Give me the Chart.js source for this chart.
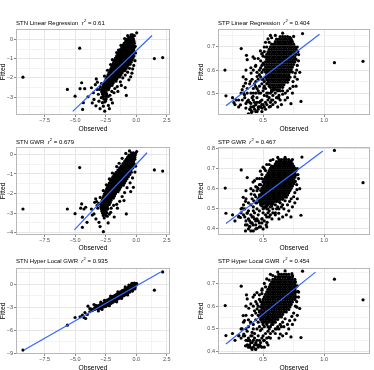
<!DOCTYPE html>
<html>
<head>
<meta charset="utf-8">
<script src="https://cdn.jsdelivr.net/npm/chart.js@4.4.1/dist/chart.umd.min.js"></script>
<style>
html, body { margin: 0; padding: 0; background: #fff; overflow: hidden; }
#wrap { position: relative; width: 374px; height: 370px; }
#wrap canvas { position: absolute; }
</style>
</head>
<body>
<div id="wrap"></div>
<script>
// Observed vs fitted values (x = observed, y = fitted)

// ---- STN, linear regression ----
const stnLinearPts = [
  [-9.28,-1.96],[-4.63,-.45],[-5.64,-2.6],[-5.01,-2.95],[1.49,-.99],[2.17,-.94],[.04,.35],[-.81,-2.91],
  [-4.47,-2.25],[-4.6,-2.56],[-4.22,-2.56],[-3.27,-2.05],[-3.18,-2.22],[-3.67,-2.51],[-4.33,-3.29],[-4.39,-3.64],
  [-3.95,-2.98],[-3.51,-2.77],[-3.05,-3.21],[-2.96,-3.6],[-2.69,-3.47],[-2.58,-3.73],[-2.28,-3.43],[-2.06,-3.12],
  [-1.82,-2.77],[-1.22,-2.39],[-.45,-1.94],[-.29,-1.53],[-1.13,-.38],[-2.86,-3.03],[-2.5,-3.2],[-2.77,-3.29],
  [-2.42,-2.95],[-3.46,-3.12],
  [-.42,.25],[-.3,.25],
  [-.62,.14],[-.45,.14],[-.28,.14],
  [-.74,.03],[-.56,.03],[-.38,.03],[-.22,.03],
  [-.86,-.08],[-.68,-.08],[-.5,-.08],[-.33,-.08],[-.18,-.08],
  [-.98,-.19],[-.8,-.19],[-.62,-.19],[-.45,-.19],[-.28,-.19],[-.15,-.19],
  [-1.08,-.3],[-.9,-.3],[-.72,-.3],[-.55,-.3],[-.37,-.3],[-.2,-.3],
  [-1.18,-.41],[-1,-.41],[-.82,-.41],[-.64,-.41],[-.46,-.41],[-.29,-.41],[-.15,-.41],
  [-1.3,-.52],[-1.12,-.52],[-.94,-.52],[-.76,-.52],[-.58,-.52],[-.4,-.52],[-.22,-.52],
  [-1.4,-.63],[-1.22,-.63],[-1.04,-.63],[-.86,-.63],[-.68,-.63],[-.5,-.63],[-.32,-.63],[-.16,-.63],
  [-1.5,-.74],[-1.32,-.74],[-1.14,-.74],[-.96,-.74],[-.78,-.74],[-.6,-.74],[-.42,-.74],[-.25,-.74],
  [-1.6,-.85],[-1.42,-.85],[-1.24,-.85],[-1.06,-.85],[-.88,-.85],[-.7,-.85],[-.52,-.85],[-.34,-.85],[-.18,-.85],
  [-1.7,-.96],[-1.52,-.96],[-1.34,-.96],[-1.16,-.96],[-.98,-.96],[-.8,-.96],[-.62,-.96],[-.44,-.96],[-.26,-.96],
  [-1.77,-1.07],[-1.59,-1.07],[-1.41,-1.07],[-1.23,-1.07],[-1.05,-1.07],[-.87,-1.07],[-.69,-1.07],[-.51,-1.07],[-.33,-1.07],
  [-1.84,-1.18],[-1.66,-1.18],[-1.48,-1.18],[-1.3,-1.18],[-1.12,-1.18],[-.94,-1.18],[-.76,-1.18],[-.58,-1.18],[-.42,-1.18],
  [-1.91,-1.29],[-1.73,-1.29],[-1.55,-1.29],[-1.37,-1.29],[-1.19,-1.29],[-1.01,-1.29],[-.83,-1.29],[-.65,-1.29],[-.5,-1.29],
  [-1.99,-1.4],[-1.81,-1.4],[-1.63,-1.4],[-1.45,-1.4],[-1.27,-1.4],[-1.09,-1.4],[-.91,-1.4],[-.73,-1.4],
  [-2.07,-1.51],[-1.89,-1.51],[-1.71,-1.51],[-1.53,-1.51],[-1.35,-1.51],[-1.17,-1.51],[-.99,-1.51],[-.82,-1.51],
  [-2.15,-1.62],[-1.97,-1.62],[-1.79,-1.62],[-1.61,-1.62],[-1.43,-1.62],[-1.25,-1.62],[-1.07,-1.62],[-.92,-1.62],
  [-2.23,-1.73],[-2.05,-1.73],[-1.87,-1.73],[-1.69,-1.73],[-1.51,-1.73],[-1.33,-1.73],[-1.15,-1.73],
  [-2.31,-1.84],[-2.13,-1.84],[-1.95,-1.84],[-1.77,-1.84],[-1.59,-1.84],[-1.41,-1.84],[-1.25,-1.84],
  [-2.39,-1.95],[-2.21,-1.95],[-2.03,-1.95],[-1.85,-1.95],[-1.67,-1.95],[-1.49,-1.95],[-1.35,-1.95],
  [-2.47,-2.06],[-2.29,-2.06],[-2.11,-2.06],[-1.93,-2.06],[-1.75,-2.06],[-1.58,-2.06],
  [-2.54,-2.17],[-2.36,-2.17],[-2.18,-2.17],[-2,-2.17],[-1.82,-2.17],[-1.66,-2.17],
  [-2.61,-2.28],[-2.43,-2.28],[-2.25,-2.28],[-2.07,-2.28],[-1.9,-2.28],
  [-2.68,-2.39],[-2.5,-2.39],[-2.32,-2.39],[-2.14,-2.39],[-1.98,-2.39],
  [-2.75,-2.5],[-2.57,-2.5],[-2.39,-2.5],[-2.21,-2.5],
  [-2.8,-2.61],[-2.62,-2.61],[-2.44,-2.61],[-2.27,-2.61],
  [-2.83,-2.72],[-2.65,-2.72],[-2.47,-2.72],
  [-2.78,-2.83],[-2.6,-2.83],[-2.42,-2.83],
  [-2.72,-2.96],[-2.52,-2.96],[-2.3,-2.96],
  [-2.66,-3.1],[-2.46,-3.1],[-2.58,-3.25],
  [-1.95,-1.05],[-2.1,-1.3],[-2.35,-1.6],[-2.6,-1.9],[-2.85,-2.3],[-3,-2.6],[-3.1,-2.85],[-.1,-1.1],
  [-.05,-.7],[-.2,-1.35],[-.55,-1.5],[-.7,-1.7],[-.9,-1.85],[-1.1,-2],[-1.3,-2.2],[-1.55,-2.45],
  [-1.75,-2.55],[-2,-2.7],[-2.15,-2.9],[-.35,-1.75],[-1.45,-.55],[-1.6,-.68],[-1.25,-.3],[-.95,.05],
  [-.7,.2],[-.15,.2],[-.08,-.35],[-.6,-2.1],[-.9,-2.5],[-1.5,-2.7],[-1.95,-3.3],[-2.2,-3.6],
  [-3.3,-3.45],[-3.6,-3.3],[-3.2,-2.6],[-2.95,-2.45],[-3.35,-2.35]
];
const stnLinearFit = [[-5.2,-3.74],[1.3,.21]];

// ---- STN, GWR ----
const stnGwrPts = [
  [-9.28,-2.79],[-4.63,-.67],[-5.64,-2.79],[-5.01,-3.03],[1.49,-.79],[2.17,-.85],[.04,.15],[-.81,-3.04],
  [-4.47,-2.53],[-4.55,-2.75],[-4.28,-2.79],[-4.14,-2.7],[-3.32,-2.27],[-3.24,-2.41],[-3.67,-2.79],[-4.41,-3.21],
  [-4.03,-3.47],[-4.41,-3.73],[-2.96,-3.69],[-2.69,-3.95],[-3.05,-3.47],[-3.46,-3.04],[-2.36,-3.16],[-2.09,-2.96],
  [-1.54,-2.75],[-1,-2.36],[-.23,-1.68],[-.12,-.14],
  [-.4,.08],[-.22,.08],
  [-.6,-.03],[-.42,-.03],[-.24,-.03],[-.08,-.03],
  [-.7,-.14],[-.52,-.14],[-.34,-.14],[-.16,-.14],
  [-.82,-.25],[-.64,-.25],[-.46,-.25],[-.28,-.25],[-.12,-.25],
  [-.94,-.36],[-.76,-.36],[-.58,-.36],[-.4,-.36],[-.22,-.36],
  [-1.08,-.47],[-.9,-.47],[-.72,-.47],[-.54,-.47],[-.36,-.47],[-.18,-.47],
  [-1.22,-.58],[-1.04,-.58],[-.86,-.58],[-.68,-.58],[-.5,-.58],[-.32,-.58],[-.16,-.58],
  [-1.36,-.69],[-1.18,-.69],[-1,-.69],[-.82,-.69],[-.64,-.69],[-.46,-.69],[-.28,-.69],
  [-1.5,-.8],[-1.32,-.8],[-1.14,-.8],[-.96,-.8],[-.78,-.8],[-.6,-.8],[-.42,-.8],
  [-1.64,-.91],[-1.46,-.91],[-1.28,-.91],[-1.1,-.91],[-.92,-.91],[-.74,-.91],[-.56,-.91],[-.4,-.91],
  [-1.78,-1.02],[-1.6,-1.02],[-1.42,-1.02],[-1.24,-1.02],[-1.06,-1.02],[-.88,-1.02],[-.7,-1.02],[-.52,-1.02],
  [-1.9,-1.13],[-1.72,-1.13],[-1.54,-1.13],[-1.36,-1.13],[-1.18,-1.13],[-1,-1.13],[-.82,-1.13],[-.64,-1.13],
  [-2,-1.24],[-1.82,-1.24],[-1.64,-1.24],[-1.46,-1.24],[-1.28,-1.24],[-1.1,-1.24],[-.92,-1.24],[-.76,-1.24],
  [-2.1,-1.35],[-1.92,-1.35],[-1.74,-1.35],[-1.56,-1.35],[-1.38,-1.35],[-1.2,-1.35],[-1.02,-1.35],[-.86,-1.35],
  [-2.2,-1.46],[-2.02,-1.46],[-1.84,-1.46],[-1.66,-1.46],[-1.48,-1.46],[-1.3,-1.46],[-1.12,-1.46],[-.96,-1.46],
  [-2.28,-1.57],[-2.1,-1.57],[-1.92,-1.57],[-1.74,-1.57],[-1.56,-1.57],[-1.38,-1.57],[-1.2,-1.57],[-1.05,-1.57],
  [-2.36,-1.68],[-2.18,-1.68],[-2,-1.68],[-1.82,-1.68],[-1.64,-1.68],[-1.46,-1.68],[-1.28,-1.68],
  [-2.44,-1.79],[-2.26,-1.79],[-2.08,-1.79],[-1.9,-1.79],[-1.72,-1.79],[-1.54,-1.79],[-1.38,-1.79],
  [-2.52,-1.9],[-2.34,-1.9],[-2.16,-1.9],[-1.98,-1.9],[-1.8,-1.9],[-1.62,-1.9],[-1.48,-1.9],
  [-2.6,-2.01],[-2.42,-2.01],[-2.24,-2.01],[-2.06,-2.01],[-1.88,-2.01],[-1.7,-2.01],
  [-2.66,-2.12],[-2.48,-2.12],[-2.3,-2.12],[-2.12,-2.12],[-1.94,-2.12],[-1.78,-2.12],
  [-2.72,-2.23],[-2.54,-2.23],[-2.36,-2.23],[-2.18,-2.23],[-2,-2.23],[-1.86,-2.23],
  [-2.78,-2.34],[-2.6,-2.34],[-2.42,-2.34],[-2.24,-2.34],[-2.06,-2.34],
  [-2.84,-2.45],[-2.66,-2.45],[-2.48,-2.45],[-2.3,-2.45],[-2.12,-2.45],
  [-2.9,-2.56],[-2.72,-2.56],[-2.54,-2.56],[-2.36,-2.56],[-2.2,-2.56],
  [-2.9,-2.67],[-2.72,-2.67],[-2.54,-2.67],[-2.36,-2.67],
  [-2.86,-2.78],[-2.68,-2.78],[-2.5,-2.78],[-2.32,-2.78],
  [-2.82,-2.89],[-2.64,-2.89],[-2.46,-2.89],
  [-2.76,-3],[-2.58,-3],[-2.4,-3],
  [-2.7,-3.12],[-2.5,-3.12],[-2.62,-3.25],
  [-1.95,-.95],[-2.2,-1.25],[-2.45,-1.55],[-2.7,-1.85],[-2.95,-2.2],[-3.05,-2.5],[-3.15,-2.75],[-.05,-.6],
  [-.1,-.9],[-.3,-1.2],[-.5,-1.45],[-.75,-1.7],[-.95,-1.95],[-1.15,-2.15],[-1.35,-2.4],[-1.6,-2.55],
  [-1.85,-2.6],[-2.05,-2.75],[-2.2,-3.05],[-1.4,-.45],[-1.6,-.62],[-1.15,-.2],[-.85,.05],[-.55,.18],
  [-.05,.05],[-.45,-1.9],[-1.8,-3.2],[-2.3,-3.5],[-3.3,-3.3],[-3.6,-3.1],[-3.2,-2.6],[-3.4,-2.45]
];
const stnGwrFit = [[-5.07,-3.86],[.89,.085]];

// ---- STN, hyper local GWR ----
const stnHyperPts = [
  [-9.28,-8.61],[2.17,1.61],[1.49,-.78],[-5.64,-5.35],[-5.01,-4.35],[-4.41,-4.04],[-4.28,-4.35],[-4.14,-4.48],
  [-3.95,-2.87],[-3.46,-2.65],[-3.67,-3.26],[-4,-3.96],[.04,.09],[-3.8,-3.6],[-3.6,-3.45],
  [-3.55,-3.35],
  [-3.4,-3.3],[-3.4,-3.05],
  [-3.25,-3.2],[-3.25,-2.95],
  [-3.1,-3.25],[-3.1,-3],[-3.1,-2.8],
  [-2.95,-3.15],[-2.95,-2.9],[-2.95,-2.65],
  [-2.8,-3.05],[-2.8,-2.8],[-2.8,-2.55],
  [-2.65,-2.95],[-2.65,-2.7],[-2.65,-2.45],
  [-2.5,-2.9],[-2.5,-2.65],[-2.5,-2.4],[-2.5,-2.2],
  [-2.35,-2.75],[-2.35,-2.5],[-2.35,-2.25],[-2.35,-2.05],
  [-2.2,-2.6],[-2.2,-2.35],[-2.2,-2.1],[-2.2,-1.9],
  [-2.05,-2.5],[-2.05,-2.25],[-2.05,-2],[-2.05,-1.75],
  [-1.9,-2.35],[-1.9,-2.1],[-1.9,-1.85],[-1.9,-1.6],
  [-1.75,-2.2],[-1.75,-1.95],[-1.75,-1.7],[-1.75,-1.45],
  [-1.6,-2.05],[-1.6,-1.8],[-1.6,-1.55],[-1.6,-1.3],
  [-1.45,-1.9],[-1.45,-1.65],[-1.45,-1.4],[-1.45,-1.15],
  [-1.3,-1.75],[-1.3,-1.5],[-1.3,-1.25],[-1.3,-1],
  [-1.15,-1.6],[-1.15,-1.35],[-1.15,-1.1],[-1.15,-.85],
  [-1,-1.5],[-1,-1.25],[-1,-1],[-1,-.75],
  [-.85,-1.35],[-.85,-1.1],[-.85,-.85],[-.85,-.6],
  [-.7,-1.2],[-.7,-.95],[-.7,-.7],[-.7,-.45],
  [-.55,-1.05],[-.55,-.8],[-.55,-.55],[-.55,-.3],
  [-.4,-.85],[-.4,-.6],[-.4,-.35],[-.4,-.1],
  [-.25,-.65],[-.25,-.4],[-.25,-.15],[-.25,.05],
  [-.1,-.4],[-.1,-.15],[-.1,.05],
  [0,-.1],[0,.05],
  [-3.8,-3.2],[-3.3,-2.75],[-2.9,-2.35],[-2.6,-2.1],[-2.1,-1.55],[-1.5,-1],[-.9,-.35],[-.6,-.1],
  [-.35,.12],[-.15,.15],[-2.8,-3.3],[-2.2,-2.8],[-1.6,-2.3],[-1.2,-1.85],[-.7,-1.4],[-.3,-.9],
  [-.1,-.6],[-3.1,-3.5],[-4.2,-3.7],[-4.6,-4.25]
];
const stnHyperFit = [[-9.19,-8.61],[2.01,1.61]];

// ---- STP, linear regression ----
const stpLinearPts = [
  [.188,.6],[.196,.488],[.321,.693],[.823,.758],[1.084,.632],[1.318,.638],[.728,.454],[.81,.464],
  [.364,.664],[.37,.645],[.418,.657],[.478,.683],[.492,.671],[.438,.616],[.337,.57],[.356,.543],
  [.397,.551],[.329,.515],[.348,.493],[.261,.459],[.315,.449],[.359,.435],[.397,.428],[.424,.442],
  [.37,.464],[.451,.42],[.405,.416],[.492,.435],[.56,.442],[.628,.478],[.682,.5],[.745,.529],
  [.764,.587],[.728,.725],[.75,.746],[.791,.667],[.696,.558],[.418,.486],[.478,.464],[.465,.5],
  [.533,.486],[.573,.507],[.505,.522],[.438,.529],[.402,.587],[.451,.572],
  [.38,.47],[.4,.455],[.42,.47],[.44,.45],[.43,.43],[.46,.44],[.47,.46],[.45,.48],[.49,.47],[.5,.45],
  [.52,.46],[.51,.49],[.53,.5],[.55,.48],[.57,.47],[.56,.5],[.58,.49],[.6,.5],[.59,.52],[.62,.51],
  [.48,.5],[.46,.51],[.44,.5],[.42,.52],[.4,.5],[.47,.53],[.49,.54],[.51,.53],[.5,.56],[.48,.57],
  [.46,.56],[.44,.55],[.45,.59],[.47,.6],[.49,.62],[.48,.64],[.5,.66],[.51,.68],[.53,.7],[.55,.72],
  [.57,.74],[.6,.75],[.66,.76],[.72,.742],[.78,.7],[.785,.68],[.78,.62],[.775,.6],[.76,.57],[.745,.55],
  [.72,.52],[.7,.51],[.66,.495],[.64,.47],[.62,.48],[.58,.45],[.55,.44],[.52,.43],[.49,.42],[.42,.44],
  [.39,.43],[.41,.42],[.36,.455],[.33,.47],[.3,.44],[.28,.47],[.34,.5],[.37,.52],[.39,.54],[.41,.56],
  [.35,.48],[.37,.5],[.39,.46],[.41,.48],[.43,.46],[.45,.46],[.47,.44],[.49,.45],[.51,.44],[.53,.45],
  [.54,.47],[.56,.46],[.58,.47],[.6,.46],[.61,.48],[.63,.49],[.64,.51],[.66,.51],[.5,.51],[.52,.52],
  [.54,.5],[.55,.53],[.57,.51],[.53,.54],[.51,.55],[.49,.56],[.47,.58],[.49,.59],[.5,.6],[.48,.61],
  [.5,.63],[.49,.67],[.51,.7],[.52,.72],[.54,.735],[.56,.75],[.44,.62],[.42,.6],[.4,.61],[.43,.65],
  [.46,.65],[.36,.6],[.34,.53],[.32,.5],[.3,.47],[.27,.45],[.25,.48],[.38,.41],[.44,.42],[.46,.43],
  [.48,.44],[.4,.44],[.42,.5],[.45,.52],[.43,.54],[.36,.56],[.79,.64],[.8,.59],[.78,.56],[.77,.53],
  [.74,.5],[.7,.48],[.68,.47],[.65,.45],[.62,.44],
  [.64,.745],[.66,.745],[.68,.745],[.7,.745],
  [.61,.734],[.63,.734],[.65,.734],[.67,.734],[.69,.734],[.71,.734],[.73,.734],
  [.6,.723],[.62,.723],[.64,.723],[.66,.723],[.68,.723],[.7,.723],[.72,.723],[.74,.723],
  [.57,.712],[.59,.712],[.61,.712],[.63,.712],[.65,.712],[.67,.712],[.69,.712],[.71,.712],[.73,.712],[.75,.712],
  [.56,.701],[.58,.701],[.6,.701],[.62,.701],[.64,.701],[.66,.701],[.68,.701],[.7,.701],[.72,.701],[.74,.701],[.76,.701],
  [.55,.69],[.57,.69],[.59,.69],[.61,.69],[.63,.69],[.65,.69],[.67,.69],[.69,.69],[.71,.69],[.73,.69],[.75,.69],[.77,.69],
  [.54,.679],[.56,.679],[.58,.679],[.6,.679],[.62,.679],[.64,.679],[.66,.679],[.68,.679],[.7,.679],[.72,.679],[.74,.679],[.76,.679],
  [.53,.668],[.55,.668],[.57,.668],[.59,.668],[.61,.668],[.63,.668],[.65,.668],[.67,.668],[.69,.668],[.71,.668],[.73,.668],[.75,.668],[.77,.668],
  [.52,.657],[.54,.657],[.56,.657],[.58,.657],[.6,.657],[.62,.657],[.64,.657],[.66,.657],[.68,.657],[.7,.657],[.72,.657],[.74,.657],[.76,.657],
  [.53,.646],[.55,.646],[.57,.646],[.59,.646],[.61,.646],[.63,.646],[.65,.646],[.67,.646],[.69,.646],[.71,.646],[.73,.646],[.75,.646],[.77,.646],
  [.52,.635],[.54,.635],[.56,.635],[.58,.635],[.6,.635],[.62,.635],[.64,.635],[.66,.635],[.68,.635],[.7,.635],[.72,.635],[.74,.635],[.76,.635],
  [.51,.624],[.53,.624],[.55,.624],[.57,.624],[.59,.624],[.61,.624],[.63,.624],[.65,.624],[.67,.624],[.69,.624],[.71,.624],[.73,.624],[.75,.624],
  [.52,.613],[.54,.613],[.56,.613],[.58,.613],[.6,.613],[.62,.613],[.64,.613],[.66,.613],[.68,.613],[.7,.613],[.72,.613],[.74,.613],
  [.51,.602],[.53,.602],[.55,.602],[.57,.602],[.59,.602],[.61,.602],[.63,.602],[.65,.602],[.67,.602],[.69,.602],[.71,.602],[.73,.602],
  [.52,.591],[.54,.591],[.56,.591],[.58,.591],[.6,.591],[.62,.591],[.64,.591],[.66,.591],[.68,.591],[.7,.591],[.72,.591],[.74,.591],
  [.53,.58],[.55,.58],[.57,.58],[.59,.58],[.61,.58],[.63,.58],[.65,.58],[.67,.58],[.69,.58],[.71,.58],
  [.52,.569],[.54,.569],[.56,.569],[.58,.569],[.6,.569],[.62,.569],[.64,.569],[.66,.569],[.68,.569],[.7,.569],[.72,.569],
  [.53,.558],[.55,.558],[.57,.558],[.59,.558],[.61,.558],[.63,.558],[.65,.558],[.67,.558],[.69,.558],[.71,.558],
  [.54,.547],[.56,.547],[.58,.547],[.6,.547],[.62,.547],[.64,.547],[.66,.547],[.68,.547],[.7,.547],
  [.55,.536],[.57,.536],[.59,.536],[.61,.536],[.63,.536],[.65,.536],[.67,.536],
  [.56,.525],[.58,.525],[.6,.525],[.62,.525],[.64,.525],[.66,.525],
  [.57,.514],[.59,.514],[.61,.514],[.63,.514]
];
const stpLinearFit = [[.196,.445],[.962,.755]];

// ---- STP, GWR ----
const stpGwrPts = [
  [.19,.603],[.196,.478],[.321,.693],[1.084,.79],[1.318,.63],[.728,.46],[.81,.468],[.818,.757],
  [.37,.655],[.418,.633],[.451,.607],[.478,.687],[.5,.707],[.337,.557],[.356,.537],[.329,.503],
  [.302,.462],[.315,.457],[.37,.478],[.356,.42],[.391,.412],[.418,.42],[.451,.403],[.356,.39],
  [.402,.573],[.424,.54],[.505,.503],[.573,.45],[.533,.433],[.492,.45],[.628,.478],[.717,.537],
  [.777,.595],[.764,.637],[.728,.737],[.641,.737],
  [.38,.45],[.4,.47],[.42,.46],[.44,.44],[.43,.48],[.46,.47],[.45,.5],[.47,.49],[.48,.52],[.5,.48],
  [.52,.47],[.51,.51],[.53,.5],[.55,.49],[.54,.52],[.56,.51],[.58,.5],[.57,.53],[.6,.52],[.62,.51],
  [.59,.55],[.61,.54],[.64,.53],[.66,.52],[.68,.54],[.7,.52],[.49,.43],[.47,.41],[.44,.4],[.41,.43],
  [.39,.41],[.36,.44],[.34,.47],[.32,.48],[.35,.5],[.38,.49],[.4,.52],[.42,.51],[.44,.53],[.46,.55],
  [.41,.55],[.43,.57],[.45,.59],[.47,.62],[.49,.65],[.52,.69],[.55,.72],[.58,.745],[.62,.755],[.68,.755],
  [.74,.745],[.78,.7],[.785,.67],[.775,.62],[.76,.58],[.75,.56],[.73,.55],[.525,.42],[.55,.46],[.6,.48],[.42,.39],
  [.35,.46],[.37,.48],[.39,.44],[.41,.46],[.43,.45],[.45,.45],[.47,.43],[.49,.45],[.51,.44],[.53,.46],
  [.54,.48],[.56,.47],[.58,.48],[.6,.47],[.61,.5],[.63,.5],[.65,.51],[.67,.5],[.5,.5],[.52,.51],
  [.54,.5],[.55,.53],[.57,.52],[.53,.53],[.5,.53],[.45,.53],[.44,.56],[.47,.57],[.46,.6],[.48,.62],
  [.47,.65],[.49,.67],[.51,.7],[.53,.72],[.56,.74],[.44,.61],[.42,.59],[.4,.6],[.43,.64],[.45,.65],
  [.36,.59],[.34,.52],[.32,.5],[.3,.46],[.27,.44],[.25,.47],[.38,.4],[.44,.42],[.46,.44],[.48,.41],
  [.4,.43],[.42,.49],[.38,.53],[.36,.55],[.79,.65],[.8,.6],[.78,.55],[.76,.53],[.74,.51],[.71,.49],
  [.69,.47],[.66,.46],[.63,.45],[.5,.4],[.53,.41],[.4,.39],[.37,.42],
  [.63,.745],[.65,.745],[.67,.745],[.69,.745],[.71,.745],
  [.61,.734],[.63,.734],[.65,.734],[.67,.734],[.69,.734],[.71,.734],[.73,.734],
  [.6,.723],[.62,.723],[.64,.723],[.66,.723],[.68,.723],[.7,.723],[.72,.723],[.74,.723],
  [.57,.712],[.59,.712],[.61,.712],[.63,.712],[.65,.712],[.67,.712],[.69,.712],[.71,.712],[.73,.712],[.75,.712],
  [.56,.701],[.58,.701],[.6,.701],[.62,.701],[.64,.701],[.66,.701],[.68,.701],[.7,.701],[.72,.701],[.74,.701],[.76,.701],
  [.55,.69],[.57,.69],[.59,.69],[.61,.69],[.63,.69],[.65,.69],[.67,.69],[.69,.69],[.71,.69],[.73,.69],[.75,.69],[.77,.69],
  [.54,.679],[.56,.679],[.58,.679],[.6,.679],[.62,.679],[.64,.679],[.66,.679],[.68,.679],[.7,.679],[.72,.679],[.74,.679],[.76,.679],
  [.53,.668],[.55,.668],[.57,.668],[.59,.668],[.61,.668],[.63,.668],[.65,.668],[.67,.668],[.69,.668],[.71,.668],[.73,.668],[.75,.668],[.77,.668],
  [.52,.657],[.54,.657],[.56,.657],[.58,.657],[.6,.657],[.62,.657],[.64,.657],[.66,.657],[.68,.657],[.7,.657],[.72,.657],[.74,.657],[.76,.657],
  [.51,.646],[.53,.646],[.55,.646],[.57,.646],[.59,.646],[.61,.646],[.63,.646],[.65,.646],[.67,.646],[.69,.646],[.71,.646],[.73,.646],[.75,.646],
  [.5,.635],[.52,.635],[.54,.635],[.56,.635],[.58,.635],[.6,.635],[.62,.635],[.64,.635],[.66,.635],[.68,.635],[.7,.635],[.72,.635],[.74,.635],[.76,.635],
  [.51,.624],[.53,.624],[.55,.624],[.57,.624],[.59,.624],[.61,.624],[.63,.624],[.65,.624],[.67,.624],[.69,.624],[.71,.624],[.73,.624],[.75,.624],
  [.5,.613],[.52,.613],[.54,.613],[.56,.613],[.58,.613],[.6,.613],[.62,.613],[.64,.613],[.66,.613],[.68,.613],[.7,.613],[.72,.613],[.74,.613],
  [.49,.602],[.51,.602],[.53,.602],[.55,.602],[.57,.602],[.59,.602],[.61,.602],[.63,.602],[.65,.602],[.67,.602],[.69,.602],[.71,.602],[.73,.602],
  [.48,.591],[.5,.591],[.52,.591],[.54,.591],[.56,.591],[.58,.591],[.6,.591],[.62,.591],[.64,.591],[.66,.591],[.68,.591],[.7,.591],[.72,.591],
  [.49,.58],[.51,.58],[.53,.58],[.55,.58],[.57,.58],[.59,.58],[.61,.58],[.63,.58],[.65,.58],[.67,.58],[.69,.58],[.71,.58],
  [.48,.569],[.5,.569],[.52,.569],[.54,.569],[.56,.569],[.58,.569],[.6,.569],[.62,.569],[.64,.569],[.66,.569],[.68,.569],[.7,.569],
  [.47,.558],[.49,.558],[.51,.558],[.53,.558],[.55,.558],[.57,.558],[.59,.558],[.61,.558],[.63,.558],[.65,.558],[.67,.558],[.69,.558],
  [.46,.547],[.48,.547],[.5,.547],[.52,.547],[.54,.547],[.56,.547],[.58,.547],[.6,.547],[.62,.547],[.64,.547],[.66,.547],
  [.47,.536],[.49,.536],[.51,.536],[.53,.536],[.55,.536],[.57,.536],[.59,.536],[.61,.536],[.63,.536],
  [.48,.525],[.5,.525],[.52,.525],[.54,.525],[.56,.525],[.58,.525],
  [.49,.514],[.53,.514],[.57,.514]
];
const stpGwrFit = [[.196,.427],[.989,.787]];

// ---- STP, hyper local GWR ----
const stpHyperPts = [
  [.19,.603],[.196,.471],[.321,.688],[.823,.754],[1.084,.719],[1.318,.628],[.728,.465],[.81,.462],
  [.364,.65],[.37,.632],[.418,.64],[.492,.676],[.383,.591],[.337,.559],[.348,.537],[.397,.529],
  [.329,.5],[.302,.471],[.342,.478],[.356,.426],[.397,.419],[.438,.412],[.478,.426],[.375,.449],
  [.505,.449],[.546,.463],[.641,.478],[.717,.537],[.777,.596],[.791,.662],[.736,.743],[.709,.721],
  [.451,.588],[.478,.493],[.41,.485],
  [.38,.46],[.4,.47],[.42,.45],[.44,.44],[.43,.48],[.46,.47],[.45,.5],[.47,.51],[.49,.5],[.5,.47],
  [.52,.48],[.51,.51],[.53,.52],[.55,.5],[.54,.53],[.56,.51],[.58,.52],[.57,.54],[.6,.53],[.62,.51],
  [.6,.5],[.64,.52],[.66,.53],[.68,.545],[.7,.52],[.48,.44],[.46,.42],[.43,.43],[.41,.44],[.39,.43],
  [.36,.45],[.34,.47],[.32,.46],[.36,.5],[.38,.51],[.4,.53],[.42,.52],[.44,.54],[.46,.56],[.41,.56],
  [.43,.58],[.45,.61],[.47,.63],[.49,.655],[.52,.685],[.55,.715],[.58,.735],[.62,.75],[.68,.755],[.74,.735],
  [.78,.69],[.785,.665],[.775,.62],[.765,.6],[.75,.57],[.735,.555],[.53,.44],[.56,.46],[.44,.41],[.41,.41],
  [.35,.47],[.37,.49],[.39,.45],[.41,.47],[.43,.46],[.45,.45],[.47,.43],[.49,.46],[.51,.45],[.53,.46],
  [.54,.49],[.56,.48],[.58,.49],[.6,.48],[.61,.5],[.63,.5],[.65,.51],[.67,.51],[.5,.52],[.52,.53],
  [.54,.51],[.55,.54],[.57,.52],[.53,.55],[.5,.55],[.46,.53],[.44,.57],[.47,.58],[.46,.6],[.48,.62],
  [.47,.65],[.49,.67],[.51,.7],[.53,.72],[.56,.74],[.44,.62],[.42,.6],[.4,.61],[.43,.65],[.45,.66],
  [.36,.6],[.34,.53],[.32,.5],[.3,.47],[.27,.45],[.25,.48],[.38,.42],[.45,.43],[.47,.45],[.49,.42],
  [.4,.44],[.42,.5],[.38,.54],[.36,.56],[.79,.64],[.8,.59],[.78,.56],[.76,.54],[.74,.52],[.71,.5],
  [.69,.48],[.66,.47],[.63,.46],[.51,.42],[.54,.43],[.42,.42],[.37,.43],
  [.63,.74],[.65,.74],[.67,.74],[.69,.74],[.71,.74],
  [.6,.729],[.62,.729],[.64,.729],[.66,.729],[.68,.729],[.7,.729],[.72,.729],[.74,.729],
  [.58,.718],[.6,.718],[.62,.718],[.64,.718],[.66,.718],[.68,.718],[.7,.718],[.72,.718],[.74,.718],[.76,.718],
  [.57,.707],[.59,.707],[.61,.707],[.63,.707],[.65,.707],[.67,.707],[.69,.707],[.71,.707],[.73,.707],[.75,.707],[.765,.707],
  [.56,.696],[.58,.696],[.6,.696],[.62,.696],[.64,.696],[.66,.696],[.68,.696],[.7,.696],[.72,.696],[.74,.696],[.76,.696],
  [.55,.685],[.57,.685],[.59,.685],[.61,.685],[.63,.685],[.65,.685],[.67,.685],[.69,.685],[.71,.685],[.73,.685],[.75,.685],[.77,.685],
  [.54,.674],[.56,.674],[.58,.674],[.6,.674],[.62,.674],[.64,.674],[.66,.674],[.68,.674],[.7,.674],[.72,.674],[.74,.674],[.76,.674],
  [.53,.663],[.55,.663],[.57,.663],[.59,.663],[.61,.663],[.63,.663],[.65,.663],[.67,.663],[.69,.663],[.71,.663],[.73,.663],[.75,.663],[.77,.663],
  [.52,.652],[.54,.652],[.56,.652],[.58,.652],[.6,.652],[.62,.652],[.64,.652],[.66,.652],[.68,.652],[.7,.652],[.72,.652],[.74,.652],[.76,.652],
  [.51,.641],[.53,.641],[.55,.641],[.57,.641],[.59,.641],[.61,.641],[.63,.641],[.65,.641],[.67,.641],[.69,.641],[.71,.641],[.73,.641],[.75,.641],[.77,.641],
  [.5,.63],[.52,.63],[.54,.63],[.56,.63],[.58,.63],[.6,.63],[.62,.63],[.64,.63],[.66,.63],[.68,.63],[.7,.63],[.72,.63],[.74,.63],[.76,.63],
  [.5,.619],[.52,.619],[.54,.619],[.56,.619],[.58,.619],[.6,.619],[.62,.619],[.64,.619],[.66,.619],[.68,.619],[.7,.619],[.72,.619],[.74,.619],
  [.49,.608],[.51,.608],[.53,.608],[.55,.608],[.57,.608],[.59,.608],[.61,.608],[.63,.608],[.65,.608],[.67,.608],[.69,.608],[.71,.608],[.73,.608],
  [.48,.597],[.5,.597],[.52,.597],[.54,.597],[.56,.597],[.58,.597],[.6,.597],[.62,.597],[.64,.597],[.66,.597],[.68,.597],[.7,.597],[.72,.597],
  [.49,.586],[.51,.586],[.53,.586],[.55,.586],[.57,.586],[.59,.586],[.61,.586],[.63,.586],[.65,.586],[.67,.586],[.69,.586],[.71,.586],
  [.47,.575],[.49,.575],[.51,.575],[.53,.575],[.55,.575],[.57,.575],[.59,.575],[.61,.575],[.63,.575],[.65,.575],[.67,.575],[.69,.575],
  [.48,.564],[.5,.564],[.52,.564],[.54,.564],[.56,.564],[.58,.564],[.6,.564],[.62,.564],[.64,.564],[.66,.564],
  [.47,.553],[.49,.553],[.51,.553],[.53,.553],[.55,.553],[.57,.553],[.59,.553],[.61,.553],[.63,.553],[.65,.553],
  [.48,.542],[.5,.542],[.52,.542],[.54,.542],[.56,.542],[.58,.542],[.6,.542],[.62,.542],
  [.49,.531],[.51,.531],[.53,.531],[.55,.531],[.57,.531],[.59,.531]
];
const stpHyperFit = [[.196,.434],[.929,.75]];

// axis limits and tick labels
const stnXRange = [-9.85, 2.77];
const stnXTicks = [-7.5, -5, -2.5, 0, 2.5];
const stnXMinor = [-8.75, -6.25, -3.75, -1.25, 1.25];
const stpXRange = [0.131, 1.375];
const stpXTicks = [0.5, 1.0];
const stpXMinor = [0.25, 0.75, 1.25];

const stnLinearYRange = [-3.93, 0.55];
const stnLinearYTicks = [-3, -2, -1, 0];
const stnLinearYMinor = [-3.5, -2.5, -1.5, -0.5, 0.5];
const stnGwrYRange = [-4.12, 0.38];
const stnGwrYTicks = [-4, -3, -2, -1, 0];
const stnGwrYMinor = [-3.5, -2.5, -1.5, -0.5];
const stnHyperYRange = [-9.12, 2.12];
const stnHyperYTicks = [-9, -6, -3, 0];
const stnHyperYMinor = [-7.5, -4.5, -1.5, 1.5];
const stpLinearYRange = [0.405, 0.778];
const stpLinearYTicks = [0.5, 0.6, 0.7];
const stpLinearYMinor = [0.45, 0.55, 0.65, 0.75];
const stpGwrYRange = [0.37, 0.807];
const stpGwrYTicks = [0.4, 0.5, 0.6, 0.7, 0.8];
const stpGwrYMinor = [0.45, 0.55, 0.65, 0.75];
const stpHyperYRange = [0.39, 0.768];
const stpHyperYTicks = [0.4, 0.5, 0.6, 0.7];
const stpHyperYMinor = [0.45, 0.55, 0.65, 0.75];

const panels = [
  { title: 'STN Linear Regression', r2: '0.61', pts: stnLinearPts, fit: stnLinearFit, col: 0, row: 0,
    xr: stnXRange, xt: stnXTicks, xm: stnXMinor, xd: 1, yr: stnLinearYRange, yt: stnLinearYTicks, ym: stnLinearYMinor, yd: 0 },
  { title: 'STP Linear Regression', r2: '0.404', pts: stpLinearPts, fit: stpLinearFit, col: 1, row: 0,
    xr: stpXRange, xt: stpXTicks, xm: stpXMinor, xd: 1, yr: stpLinearYRange, yt: stpLinearYTicks, ym: stpLinearYMinor, yd: 1 },
  { title: 'STN GWR', r2: '0.679', pts: stnGwrPts, fit: stnGwrFit, col: 0, row: 1,
    xr: stnXRange, xt: stnXTicks, xm: stnXMinor, xd: 1, yr: stnGwrYRange, yt: stnGwrYTicks, ym: stnGwrYMinor, yd: 0 },
  { title: 'STP GWR', r2: '0.467', pts: stpGwrPts, fit: stpGwrFit, col: 1, row: 1,
    xr: stpXRange, xt: stpXTicks, xm: stpXMinor, xd: 1, yr: stpGwrYRange, yt: stpGwrYTicks, ym: stpGwrYMinor, yd: 1 },
  { title: 'STN Hyper Local GWR', r2: '0.935', pts: stnHyperPts, fit: stnHyperFit, col: 0, row: 2,
    xr: stnXRange, xt: stnXTicks, xm: stnXMinor, xd: 1, yr: stnHyperYRange, yt: stnHyperYTicks, ym: stnHyperYMinor, yd: 0 },
  { title: 'STP Hyper Local GWR', r2: '0.454', pts: stpHyperPts, fit: stpHyperFit, col: 1, row: 2,
    xr: stpXRange, xt: stpXTicks, xm: stpXMinor, xd: 1, yr: stpHyperYRange, yt: stpHyperYTicks, ym: stpHyperYMinor, yd: 1 }
];

// page layout (pixels)
const cols = [
  { left: 0, width: 187, yAxisW: 16, padRight: 17, fittedPad: 0 },
  { left: 187, width: 187, yAxisW: 31, padRight: 3, fittedPad: 11 }
];
const rows = [
  { top: 0, height: 136, padTop: 29, xAxisH: 21, obsPad: 3.6, titleDy: 5.8 },
  { top: 136, height: 120, padTop: 11, xAxisH: 21, obsPad: 4.3, titleDy: 4.8 },
  { top: 256, height: 114, padTop: 12, xAxisH: 16, obsPad: -1, titleDy: 6.5 }
];

const FONT = '"Liberation Sans", Arial, sans-serif';

const fmt = (v, d) => {
  const s = Math.abs(v).toFixed(d);
  return (v < -1e-9 ? '\u2212' : '') + s;
};

const makeTicks = (major, minor) => major.map(v => ({ value: v, isMajor: true }))
  .concat(minor.map(v => ({ value: v, isMajor: false })))
  .sort((a, b) => a.value - b.value);

// panel border + title with italic r and superscript 2
const panelDecor = {
  id: 'panelDecor',
  afterDatasetsDraw(chart, args, opts) {
    const { ctx, chartArea: a } = chart;
    ctx.save();
    ctx.strokeStyle = '#b8b8b8';
    ctx.lineWidth = 1;
    ctx.strokeRect(Math.round(a.left) + 0.5, Math.round(a.top) + 0.5,
      Math.round(a.right - a.left) - 1, Math.round(a.bottom - a.top) - 1);

    const y = a.top - opts.dy;
    let x = a.left;
    ctx.fillStyle = '#000';
    ctx.textAlign = 'left';
    ctx.textBaseline = 'middle';
    ctx.font = '6px ' + FONT;
    const head = opts.title + '  ';
    ctx.fillText(head, x, y);
    x += ctx.measureText(head).width;
    ctx.font = 'italic 6px ' + FONT;
    ctx.fillText('r', x, y);
    x += ctx.measureText('r').width + 0.2;
    ctx.font = '4.2px ' + FONT;
    ctx.fillText('2', x, y - 2.2);
    x += ctx.measureText('2').width;
    ctx.font = '6px ' + FONT;
    ctx.fillText(' = ' + opts.r2, x, y);
    ctx.restore();
  }
};

const wrap = document.getElementById('wrap');

panels.forEach(p => {
  const c = cols[p.col];
  const r = rows[p.row];
  const canvas = document.createElement('canvas');
  canvas.width = c.width;
  canvas.height = r.height;
  canvas.style.left = c.left + 'px';
  canvas.style.top = r.top + 'px';
  wrap.appendChild(canvas);

  const gridColor = ctx => (ctx.tick && ctx.tick.isMajor) ? '#e6e6e6' : '#f3f3f3';
  const tickColor = ctx => (ctx.tick && ctx.tick.isMajor) ? '#8a8a8a' : 'rgba(0,0,0,0)';

  new Chart(canvas, {
    type: 'scatter',
    data: {
      datasets: [
        {
          data: p.fit.map(q => ({ x: q[0], y: q[1] })),
          showLine: true,
          borderColor: '#3366ff',
          borderWidth: 1.2,
          pointRadius: 0,
          order: 0
        },
        {
          data: p.pts.map(q => ({ x: q[0], y: q[1] })),
          pointRadius: 1.6,
          pointBackgroundColor: '#000',
          pointBorderWidth: 0,
          order: 1
        }
      ]
    },
    options: {
      responsive: false,
      animation: false,
      devicePixelRatio: 1,
      events: [],
      layout: { padding: { top: r.padTop, right: c.padRight, bottom: 0, left: 0 } },
      plugins: {
        legend: { display: false },
        tooltip: { enabled: false },
        panelDecor: { title: p.title, r2: p.r2, dy: r.titleDy }
      },
      scales: {
        x: {
          type: 'linear',
          min: p.xr[0],
          max: p.xr[1],
          bounds: 'data',
          afterFit: s => { s.height = r.xAxisH; },
          afterBuildTicks: s => { s.ticks = makeTicks(p.xt, p.xm); },
          ticks: {
            autoSkip: false, maxRotation: 0, minRotation: 0, padding: 0,
            color: '#4d4d4d', font: { family: FONT, size: 5.5 },
            callback: (v, i, t) => t[i].isMajor ? fmt(v, p.xd) : ''
          },
          grid: { color: gridColor, tickColor: tickColor, tickLength: 2, lineWidth: 1 },
          border: { display: false },
          title: {
            display: true, text: 'Observed', color: '#000',
            font: { family: FONT, size: 6.7, lineHeight: 1 },
            padding: { top: 0, bottom: r.obsPad }
          }
        },
        y: {
          type: 'linear',
          min: p.yr[0],
          max: p.yr[1],
          bounds: 'data',
          afterFit: s => { s.width = c.yAxisW; },
          afterBuildTicks: s => { s.ticks = makeTicks(p.yt, p.ym); },
          ticks: {
            autoSkip: false, padding: 1,
            color: '#4d4d4d', font: { family: FONT, size: 5.5 },
            callback: (v, i, t) => t[i].isMajor ? fmt(v, p.yd) : ''
          },
          grid: { color: gridColor, tickColor: tickColor, tickLength: 2, lineWidth: 1 },
          border: { display: false },
          title: {
            display: true, text: 'Fitted', color: '#000',
            font: { family: FONT, size: 6.7, lineHeight: 1 },
            padding: { top: c.fittedPad, bottom: 0 }
          }
        }
      }
    },
    plugins: [panelDecor]
  });
});
</script>
</body>
</html>
